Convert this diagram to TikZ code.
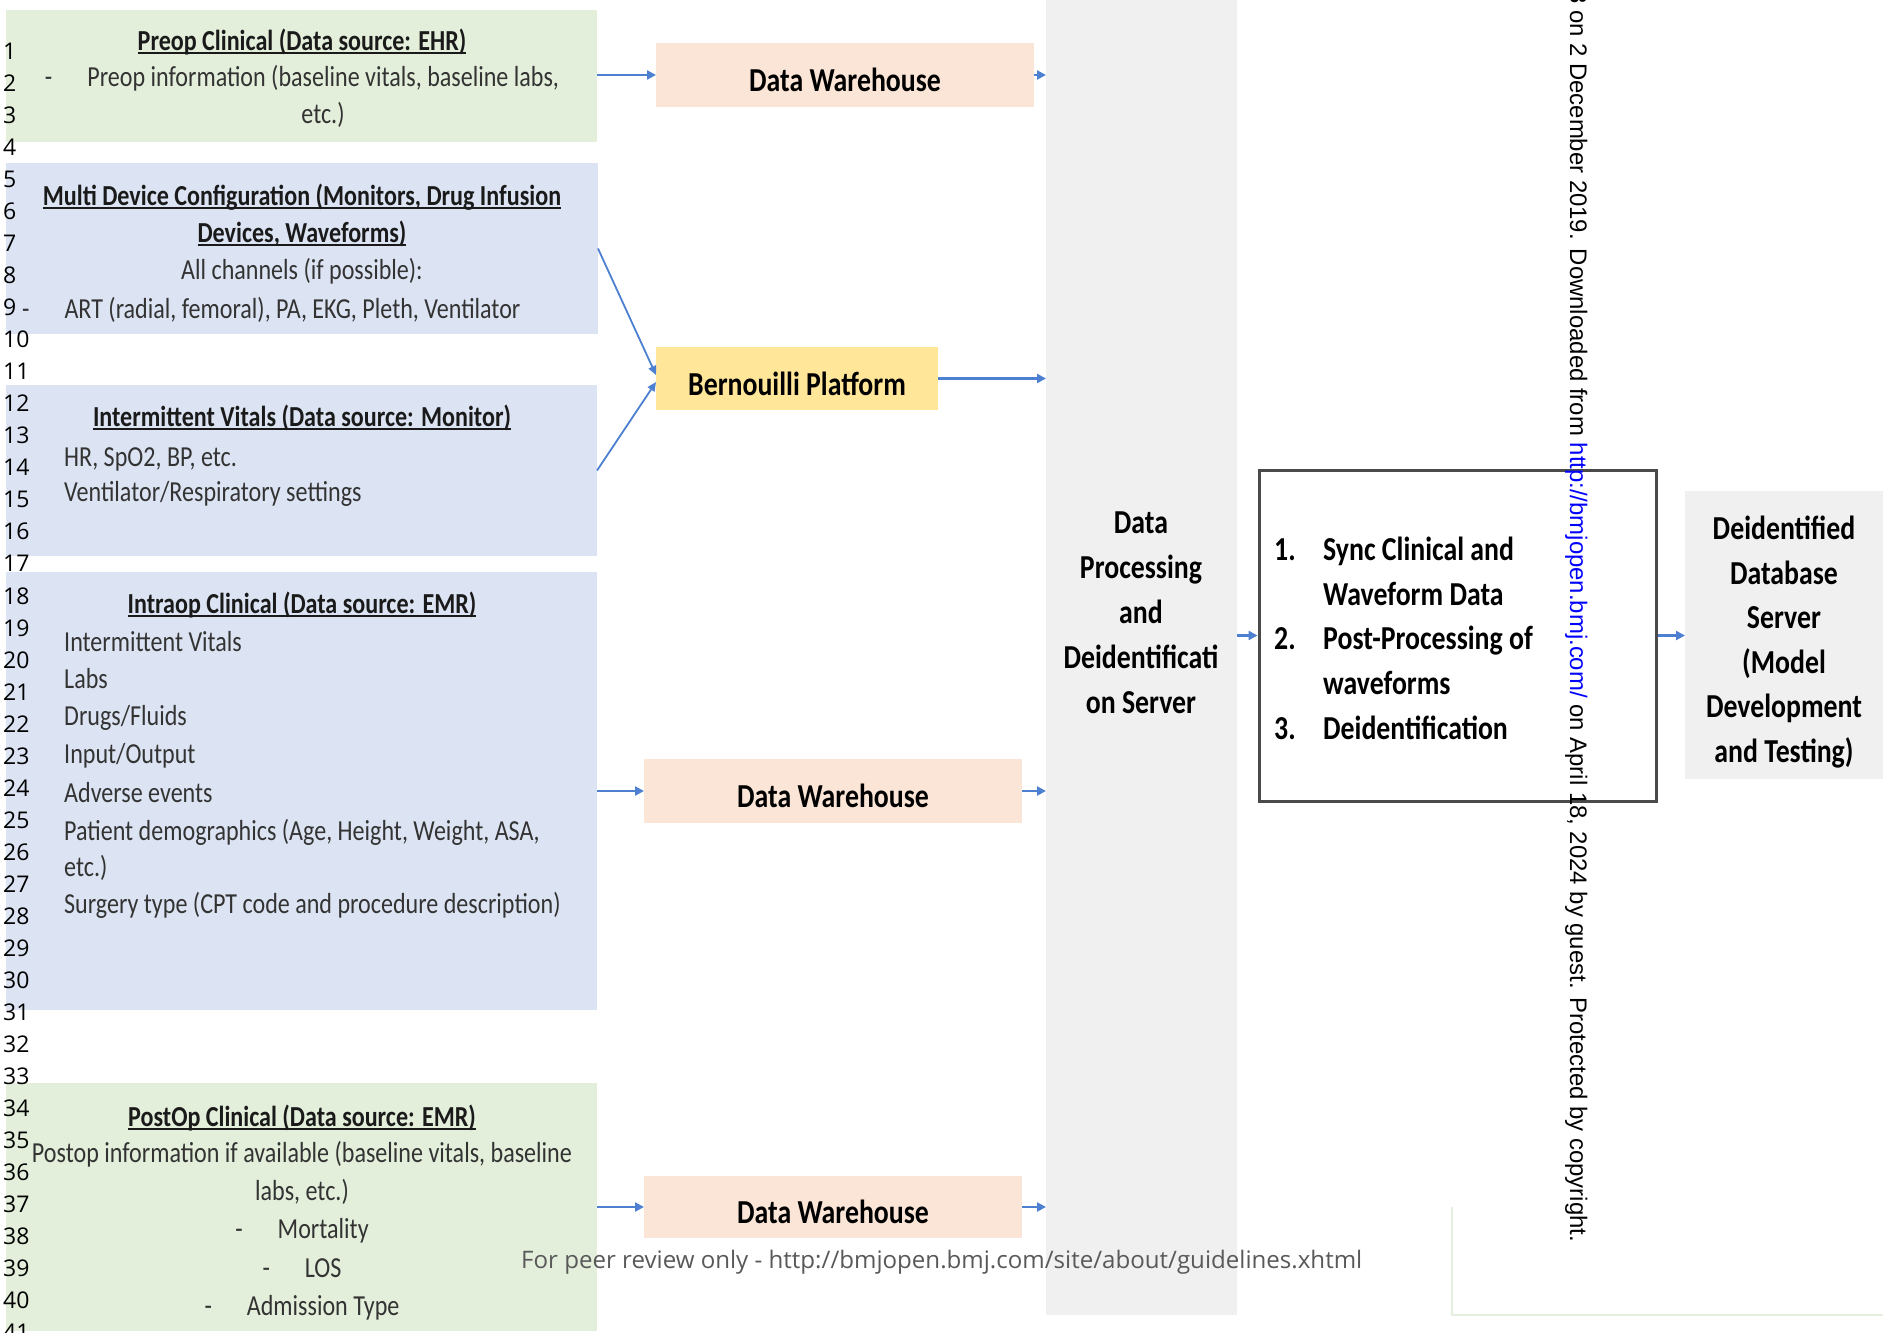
\documentclass[tikz,border=0pt]{standalone}
\usepackage{fontspec}
\setmainfont{Carlito}[FakeStretch=0.83]
\newfontfamily\numfont{Open Sans}
\newfontfamily\wmfont{Liberation Sans}
\usetikzlibrary{arrows.meta}
\definecolor{grn}{HTML}{E3EFDA}
\definecolor{blu}{HTML}{DCE4F3}
\definecolor{peach}{HTML}{FBE5D6}
\definecolor{yel}{HTML}{FFE699}
\definecolor{lgrey}{HTML}{F0F0F0}
\definecolor{arrblue}{HTML}{4D80D0}
\definecolor{bodygray}{HTML}{333333}
\definecolor{titleblk}{HTML}{1A1A1A}
\definecolor{footgray}{HTML}{595959}
\definecolor{linkblue}{HTML}{0000FF}
\definecolor{framegreen}{HTML}{E4EFDF}
\definecolor{boxborder}{HTML}{4A4A4A}
\newcommand{\ttul}[1]{\setbox0\hbox{#1}\rlap{\rule[-3.5pt]{\wd0}{1.8pt}}\box0}
\tikzset{
  panel/.style={draw=none, inner sep=0pt, outer sep=0pt},
  body/.style={font=\fontsize{29}{36}\selectfont, text=bodygray, inner sep=0pt},
  ttl/.style={font=\bfseries\fontsize{29}{36}\selectfont, text=titleblk, inner sep=0pt},
  big/.style={font=\bfseries\fontsize{33.5}{45}\selectfont, text=black, inner sep=0pt},
  lowtext/.style={text height=33pt, text depth=0pt},
  arr/.style={draw=arrblue, line width=2.6pt, -{Triangle[length=9pt,width=9pt]}},
  arrthin/.style={draw=arrblue, line width=1.8pt, -{Triangle[length=9pt,width=8pt]}},
  lnum/.style={font=\numfont\fontsize{23}{27}\selectfont, text=black, inner sep=0pt, anchor=base west},
}
\begin{document}
\begin{tikzpicture}[x=1pt,y=-1pt]
\useasboundingbox (0,0) rectangle (1883,1333);
\fill[white] (0,0) rectangle (1883,1333);

% left panels
\node[panel, fill=grn, minimum width=591pt, minimum height=132pt] (preop) at (301.5,76) {};
\node[panel, fill=blu, minimum width=592pt, minimum height=171pt] (multi) at (302,248.5) {};
\node[panel, fill=blu, minimum width=591pt, minimum height=171pt] (intvit) at (301.5,470.5) {};
\node[panel, fill=blu, minimum width=591pt, minimum height=438pt] (intraop) at (301.5,791) {};
\node[panel, fill=grn, minimum width=591pt, minimum height=248pt] (postop) at (301.5,1207) {};

% middle boxes
\node[panel, fill=peach, minimum width=378pt, minimum height=64pt, big, lowtext] (dw1) at (845,75) {Data Warehouse};
\node[panel, fill=yel, minimum width=282pt, minimum height=63pt, big, lowtext] (bern) at (797,378.5) {Bernouilli Platform};
\node[panel, fill=peach, minimum width=378pt, minimum height=64pt, big, lowtext] (dw2) at (833,791) {Data Warehouse};
\node[panel, fill=peach, minimum width=378pt, minimum height=62pt, big, lowtext] (dw3) at (833,1207) {Data Warehouse};

% processing column
\node[panel, fill=lgrey, minimum width=191pt, minimum height=1315pt] (dproc) at (1141.5,657.5) {};
\node[big, align=center] (dproctxt) at (1141,613) {Data\\Processing\\and\\Deidentificati\\on Server};

% list box
\node[draw=boxborder, line width=3pt, fill=white, minimum width=397pt, minimum height=331pt, inner sep=0pt] (lbox) at (1457.5,635.5) {};
\node[big, anchor=west] (lboxtxt) at (1274,641) {\fontsize{33.5}{44.8}\selectfont
\begin{tabular}{@{}p{49pt}@{}l@{}}
1. & Sync Clinical and\\
   & Waveform Data\\
2. & Post-Processing of\\
   & waveforms\\
3. & Deidentification
\end{tabular}};

% deidentified server
\node[panel, fill=lgrey, minimum width=198pt, minimum height=288pt] (deid) at (1784,635) {};
\node[big, align=center, font=\bfseries\fontsize{33.5}{44.5}\selectfont] (deidtxt) at (1784,642) {Deidentified\\Database\\Server\\(Model\\Development\\and Testing)};

% texts of left panels
\node[ttl, anchor=base] (t1) at (302,50) {\ttul{Preop Clinical (Data source: EHR)}};
\node[body, anchor=base] (t2) at (302,86) {-\hspace{35pt}Preop information (baseline vitals, baseline labs,};
\node[body, anchor=base] (t3) at (323,123) {etc.)};

\node[ttl, anchor=base] (t4) at (302,205) {\ttul{Multi Device Configuration (Monitors, Drug Infusion}};
\node[ttl, anchor=base] (t5) at (302,242) {\ttul{Devices, Waveforms)}};
\node[body, anchor=base] (t6) at (302,279) {All channels (if possible):};
\node[body, anchor=base west] (t7) at (22,318) {-\hspace{35pt}ART (radial, femoral), PA, EKG, Pleth, Ventilator};

\node[ttl, anchor=base] (t8) at (302,426) {\ttul{Intermittent Vitals (Data source: Monitor)}};
\node[body, anchor=base west] (t9) at (64,466) {HR, SpO2, BP, etc.};
\node[body, anchor=base west] (t10) at (64,501) {Ventilator/Respiratory settings};

\node[ttl, anchor=base] (t11) at (302,613) {\ttul{Intraop Clinical (Data source: EMR)}};
\node[body, anchor=base west] (t12) at (64,651) {Intermittent Vitals};
\node[body, anchor=base west] (t13) at (64,688) {Labs};
\node[body, anchor=base west] (t14) at (64,725) {Drugs/Fluids};
\node[body, anchor=base west] (t15) at (64,763) {Input/Output};
\node[body, anchor=base west] (t16) at (64,802) {Adverse events};
\node[body, anchor=base west] (t17) at (64,840) {Patient demographics (Age, Height, Weight, ASA,};
\node[body, anchor=base west] (t18) at (64,876) {etc.)};
\node[body, anchor=base west] (t19) at (64,913) {Surgery type (CPT code and procedure description)};

\node[ttl, anchor=base] (t20) at (302,1126) {\ttul{PostOp Clinical (Data source: EMR)}};
\node[body, anchor=base] (t21) at (302,1162) {Postop information if available (baseline vitals, baseline};
\node[body, anchor=base] (t22) at (302,1200) {labs, etc.)};
\node[body, anchor=base] (t23) at (302,1238) {-\hspace{35pt}Mortality};
\node[body, anchor=base] (t24) at (302,1277) {-\hspace{35pt}LOS};
\node[body, anchor=base] (t25) at (302,1315) {-\hspace{35pt}Admission Type};

% connectors
\draw[arr] (preop.east |- dw1.west) -- (dw1.west);
\draw[arr] (dw1.east) -- (dw1.east -| dproc.west);
\draw[arrthin] (multi.east) -- ([yshift=3.5pt]bern.west);
\draw[arrthin] (intvit.east) -- ([yshift=-3.5pt]bern.west);
\draw[arr] (bern.east) -- (bern.east -| dproc.west);
\draw[arr] (intraop.east |- dw2.west) -- (dw2.west);
\draw[arr] (dw2.east) -- (dw2.east -| dproc.west);
\draw[arr] (postop.east |- dw3.west) -- (dw3.west);
\draw[arr] (dw3.east) -- (dw3.east -| dproc.west);
\draw[arr] (dproc.east |- lbox.west) -- (lbox.west);
\draw[arr] (lbox.east) -- (deid.west |- lbox.east);

% faint frame
\draw[framegreen, line width=1.2pt] (1452,1207) -- (1452,1315) -- (1883,1315);

% line numbers
\foreach \n in {1,...,41}{
  \node[lnum] (ln\n) at (3,{59.5+(\n-1)*32.03}) {\n};
}

% footer
\node[font=\numfont\fontsize{24.1}{28}\selectfont, text=footgray, inner sep=0pt, anchor=base west] (foot) at (521,1268) {For peer review only - http://bmjopen.bmj.com/site/about/guidelines.xhtml};

% watermark
\node[font=\wmfont\fontsize{23.9}{28}\selectfont, text=black, inner sep=0pt, anchor=base west, rotate=-90] (wmk) at (1570,-10) {8 on 2 December 2019. Downloaded from \textcolor{linkblue}{http://bmjopen.bmj.com/} on April 18, 2024 by guest. Protected by copyright.};
\end{tikzpicture}
\end{document}
